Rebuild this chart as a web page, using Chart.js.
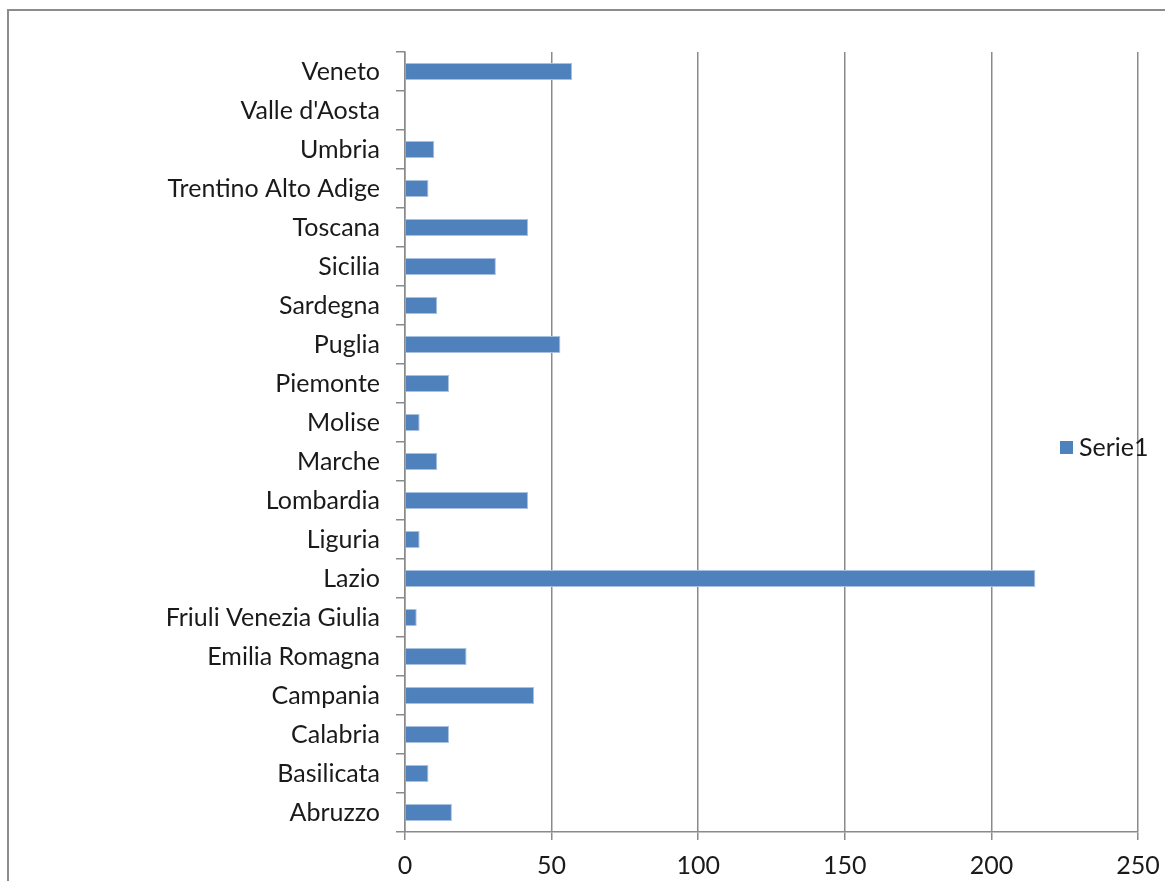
<!DOCTYPE html>
<html>
<head>
<meta charset="utf-8">
<script src="https://cdn.jsdelivr.net/npm/chart.js@4.4.1/dist/chart.umd.min.js"></script>
<style>
  html, body { margin: 0; padding: 0; background: #fff; }
  #wrap { width: 1165px; height: 881px; }
</style>
</head>
<body>
<div id="wrap"><canvas id="myChart"></canvas></div>
<script>
// regions, top to bottom as in the picture
const regions = ['Veneto', "Valle d'Aosta", 'Umbria', 'Trentino Alto Adige', 'Toscana', 'Sicilia',
    'Sardegna', 'Puglia', 'Piemonte', 'Molise', 'Marche', 'Lombardia', 'Liguria', 'Lazio',
    'Friuli Venezia Giulia', 'Emilia Romagna', 'Campania', 'Calabria', 'Basilicata', 'Abruzzo'];
const serie1 = [57, 0, 10, 8, 42, 31, 11, 53, 15, 5, 11, 42, 5, 215, 4, 21, 44, 15, 8, 16];
const seriesName = 'Serie1';
const xTicks = [0, 50, 100, 150, 200, 250];

const fontFamily = 'Lato, "Open Sans", sans-serif';
const fontSize = 25;
const textColor = '#1a1a1a';
const gridColor = '#8a8a8a';
const barColor = '#4f81bd';

// outer frame of the chart object
const framePlugin = {
    id: 'frame',
    beforeDraw(chart) {
        const c = chart.ctx;
        c.save();
        c.strokeStyle = '#8c8c8c';
        c.lineWidth = 2;
        c.strokeRect(8, 10, chart.width + 20, chart.height + 20);
        c.restore();
    }
};

// legend drawn over the plot, like the original
const legendPlugin = {
    id: 'sideLegend',
    afterDraw(chart) {
        const c = chart.ctx;
        const ds = chart.data.datasets[0];
        c.save();
        c.fillStyle = ds.backgroundColor;
        c.fillRect(1060, 441, 13, 13);
        c.fillStyle = textColor;
        c.font = fontSize + 'px ' + fontFamily;
        c.textBaseline = 'middle';
        c.fillText(ds.label, 1079, 448);
        c.restore();
    }
};

const ctx = document.getElementById('myChart');
const myChart = new Chart(ctx, {
    type: 'bar',
    data: {
        labels: regions,
        datasets: [{
            label: seriesName,
            data: serie1,
            backgroundColor: barColor,
            borderColor: '#a9c1e0',
            borderWidth: 1,
            barPercentage: 0.44,
            categoryPercentage: 1,
        }]
    },
    options: {
        indexAxis: 'y',
        responsive: true,
        maintainAspectRatio: false,
        animation: false,
        layout: {
            padding: { left: 0, top: 52, right: 27, bottom: 0 }
        },
        plugins: {
            legend: { display: false },
            tooltip: { enabled: false },
        },
        scales: {
            x: {
                min: 0,
                max: 250,
                afterBuildTicks: (scale) => {
                    scale.ticks = xTicks.map(v => ({ value: v }));
                },
                afterFit: (scale) => {
                    scale.height = 49;
                    scale.paddingRight = 0;
                    scale.paddingLeft = 0;
                },
                grid: {
                    color: gridColor,
                    lineWidth: 1.5,
                    drawOnChartArea: true,
                    drawTicks: true,
                    tickLength: 8,
                },
                border: { color: gridColor, width: 1.5 },
                ticks: {
                    color: textColor,
                    font: { family: fontFamily, size: fontSize },
                    padding: 11,
                    maxRotation: 0,
                }
            },
            y: {
                afterFit: (scale) => {
                    scale.width = 405;
                    scale.paddingTop = 0;
                    scale.paddingBottom = 0;
                },
                grid: {
                    color: gridColor,
                    lineWidth: 1.5,
                    drawOnChartArea: false,
                    drawTicks: true,
                    tickLength: 9,
                    offset: true,
                },
                border: { color: gridColor, width: 1.5 },
                ticks: {
                    color: textColor,
                    font: { family: fontFamily, size: fontSize },
                    padding: 16,
                    autoSkip: false,
                }
            }
        }
    },
    plugins: [framePlugin, legendPlugin]
});
</script>
</body>
</html>
